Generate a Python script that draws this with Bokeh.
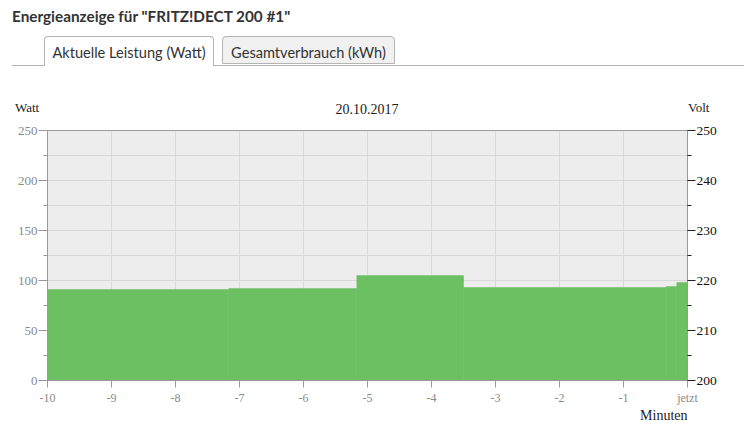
from bokeh.plotting import figure
from bokeh.models import Div, Range1d, LinearAxis, FixedTicker, Title
from bokeh.layouts import column
from bokeh.embed import file_html
from bokeh.resources import INLINE

# ---- data ----
step_start_min = [-10, -7.1667, -5.1667, -3.5, -0.3333, -0.1667]
watt_values = [91, 92, 105, 93, 94, 98]
x_ticks = [-10, -9, -8, -7, -6, -5, -4, -3, -2, -1, 0]
x_tick_labels = ["-10", "-9", "-8", "-7", "-6", "-5", "-4", "-3", "-2", "-1", "jetzt"]
watt_ticks = [0, 50, 100, 150, 200, 250]
watt_minor = [25, 75, 125, 175, 225]
volt_ticks = [200, 210, 220, 230, 240, 250]
volt_minor = [205, 215, 225, 235, 245]
date_text = "20.10.2017"
header_text = 'Energieanzeige für "FRITZ!DECT 200 #1"'
tab_labels = ["Aktuelle Leistung (Watt)", "Gesamtverbrauch (kWh)"]

step_end_min = step_start_min[1:] + [0]

SERIF = "Liberation Serif"

header_html = f"""
<div style="position:relative;width:744px;height:120px;font-family:Lato,'Noto Sans',sans-serif;color:#333;">
  <div style="position:absolute;left:12px;top:7px;font-weight:bold;font-size:15.3px;line-height:18px;white-space:nowrap;">{header_text}</div>
  <div style="position:absolute;left:12px;width:732px;top:65px;height:1px;background:#b4b4b4;"></div>
  <div style="position:absolute;left:44px;top:36px;width:170px;height:30px;border:1px solid #b4b4b4;border-bottom:none;background:#ffffff;border-radius:4px 4px 0 0;text-align:center;font-size:14.6px;line-height:31px;white-space:nowrap;">{tab_labels[0]}</div>
  <div style="position:absolute;left:222px;top:36px;width:173px;height:28px;border:1px solid #b4b4b4;background:#f1f1f1;border-radius:4px 4px 0 0;text-align:center;font-size:14.6px;line-height:31px;white-space:nowrap;">{tab_labels[1]}</div>
  <div style="position:absolute;left:15px;top:100px;font-family:'{SERIF}',serif;font-size:13px;line-height:16px;color:#222;">Watt</div>
  <div style="position:absolute;left:267px;width:200px;top:101px;text-align:center;font-family:'{SERIF}',serif;font-size:14px;line-height:17px;color:#222;">{date_text}</div>
  <div style="position:absolute;left:688px;top:100px;font-family:'{SERIF}',serif;font-size:13px;line-height:16px;color:#222;">Volt</div>
</div>
"""
div = Div(text=header_html, width=744, height=120, margin=(0, 0, 0, 0))

p = figure(width=744, height=304, x_range=Range1d(-10, 0), y_range=Range1d(0, 250),
           output_backend="svg", toolbar_location=None,
           min_border_left=47, min_border_right=57, min_border_top=10, min_border_bottom=44)
p.background_fill_color = "#ededed"
p.border_fill_color = "white"
p.outline_line_color = "#9a9a9a"

p.quad(left=step_start_min, right=step_end_min, bottom=0, top=watt_values,
       fill_color="#6cc062", line_color="#6cc062", line_width=0.5)

# x axis
p.xaxis.ticker = FixedTicker(ticks=x_ticks, minor_ticks=[])
p.xaxis.major_label_overrides = {t: l for t, l in zip(x_ticks, x_tick_labels)}
p.xaxis.axis_line_color = "#9a9a9a"
p.xaxis.major_tick_line_color = "#9a9a9a"
p.xaxis.major_tick_out = 7
p.xaxis.major_tick_in = 0
p.xaxis.major_label_standoff = 3
p.xaxis.major_label_text_font = SERIF
p.xaxis.major_label_text_font_size = "12px"
p.xaxis.major_label_text_color = "#8a8a8a"

# left axis
p.yaxis.ticker = FixedTicker(ticks=watt_ticks, minor_ticks=watt_minor)
p.yaxis.axis_line_color = "#9a9a9a"
p.yaxis.major_tick_line_color = "#9a9a9a"
p.yaxis.minor_tick_line_color = "#9a9a9a"
p.yaxis.major_tick_out = 9
p.yaxis.major_tick_in = 0
p.yaxis.minor_tick_out = 4
p.yaxis.minor_tick_in = 0
p.yaxis.major_label_standoff = 1
p.yaxis.major_label_text_font = SERIF
p.yaxis.major_label_text_font_size = "13px"
p.yaxis.major_label_text_color = "#8a8a8a"

# grid
p.xgrid.ticker = FixedTicker(ticks=x_ticks, minor_ticks=[])
p.xgrid.grid_line_color = "#d9d9dc"
p.ygrid.grid_line_color = "#d9d9dc"
p.ygrid.minor_grid_line_color = "#d9d9dc"

# right axis (Volt)
p.extra_y_ranges = {"volt": Range1d(200, 250)}
vax = LinearAxis(y_range_name="volt", ticker=FixedTicker(ticks=volt_ticks, minor_ticks=volt_minor))
vax.axis_line_color = "#9a9a9a"
vax.major_tick_line_color = "#222222"
vax.minor_tick_line_color = "#222222"
vax.major_tick_out = 8
vax.major_tick_in = 0
vax.minor_tick_out = 4
vax.minor_tick_in = 0
vax.major_label_standoff = 1
vax.major_label_text_font = SERIF
vax.major_label_text_font_size = "13.5px"
vax.major_label_text_color = "#111111"
p.add_layout(vax, "right")

# "Minuten" below the x axis, right-aligned to the frame
p.add_layout(Title(text="Minuten", align="right", text_font=SERIF, text_font_size="14px",
                   text_font_style="normal", text_color="#222222", standoff=-3, offset=0), "below")

layout = column(div, p, spacing=0)
open("out.html", "w").write(file_html(layout, INLINE))
